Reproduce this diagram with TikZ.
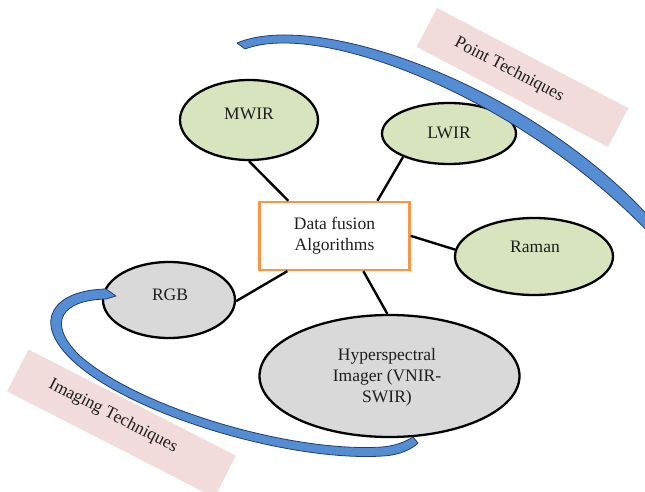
\documentclass[tikz,border=0pt]{standalone}
\usepackage{fontspec}
\setmainfont{Liberation Serif}
\usetikzlibrary{shapes.geometric,calc}
\definecolor{leaf}{RGB}{215,228,189}
\definecolor{ash}{RGB}{217,217,217}
\definecolor{hubline}{RGB}{247,150,70}
\definecolor{band}{RGB}{84,141,212}
\definecolor{bandedge}{RGB}{35,60,105}
\definecolor{tagfill}{RGB}{242,220,219}
\definecolor{ink}{RGB}{30,30,30}
\begin{document}
\begin{tikzpicture}[x=1pt,y=-1pt,
  txt/.style={text=ink,font=\fontsize{17.5}{21}\selectfont,align=center,inner sep=0pt},
  sensor/.style={ellipse,draw=black,line width=2.3pt,inner sep=0pt},
  green/.style={sensor,fill=leaf},
  grey/.style={sensor,fill=ash},
  hubbox/.style={rectangle,draw=hubline,line width=2.3pt,fill=white,
    minimum width=150pt,minimum height=68pt,inner sep=0pt},
  link/.style={draw=black,line width=2.4pt},
  tagbox/.style={rectangle,fill=tagfill,inner sep=0pt},
  bandshape/.style={fill=band,draw=bandedge,line width=0.8pt,line join=round}
]
\useasboundingbox (0,0) rectangle (645,492);
\clip (0,0) rectangle (645,492);

% group labels
\node[tagbox,rotate=-27.6,minimum width=216pt,minimum height=44pt] (pt-tag) at (522.5,77.5) {};
\node[txt,rotate=-27.6] (pt-text) at (509,70) {Point Techniques};
\node[tagbox,rotate=-27.1,minimum width=233pt,minimum height=47pt] (im-tag) at (121.5,423.5) {};
\node[txt,rotate=-27.1] (im-text) at (113,416) {Imaging Techniques};

% central box
\node[hubbox] (hub) at (334.5,236) {};
\node[txt] (hub-text) at (334.5,236) {Data fusion\\Algorithms};

% sensors
\node[green,minimum width=138pt,minimum height=80pt] (mwir) at (249,120) {};
\node[txt] (mwir-text) at (249,114) {MWIR};
\node[green,minimum width=134pt,minimum height=61pt] (lwir) at (449,133.5) {};
\node[txt] (lwir-text) at (449,133) {LWIR};
\node[green,minimum width=158pt,minimum height=77pt] (raman) at (534,256.5) {};
\node[txt] (raman-text) at (535,247) {Raman};
\node[grey,minimum width=132pt,minimum height=76pt] (rgb) at (169,300) {};
\node[txt] (rgb-text) at (170,295) {RGB};
\node[grey,minimum width=260pt,minimum height=122pt] (hyper) at (389.5,376) {};
\node[txt] (hyper-text) at (387,377) {Hyperspectral\\Imager (VNIR-\\SWIR)};

% connectors
\draw[link] (mwir.-90) -- ([xshift=30pt]hub.north west);
\draw[link] (lwir.-153) -- ([xshift=119pt]hub.north west);
\draw[link] (raman.175) -- ([yshift=-35pt]hub.north east);
\draw[link] (rgb.-1) -- ([xshift=29pt]hub.south west);
\draw[link] (hyper.92) -- ([xshift=105pt]hub.south west);

% upper bracket band
\draw[bandshape]
  (237,43) .. controls (317,9) and (532,86) .. (652,220)
  -- (652,236) .. controls (522,98) and (320,20) .. (245,49) -- cycle;

% lower bracket band
\draw[bandshape]
  (106,289) .. controls (55,290) and (30,320) .. (72,360)
  .. controls (130,415) and (290,462) .. (383,456)
  .. controls (400,455) and (412,449) .. (418,443)
  -- (413,437) .. controls (405,442) and (395,446) .. (382,447)
  .. controls (292,453) and (138,408) .. (79,355)
  .. controls (46,322) and (62,300) .. (106,299)
  -- (116,296) -- cycle;
\end{tikzpicture}
\end{document}
